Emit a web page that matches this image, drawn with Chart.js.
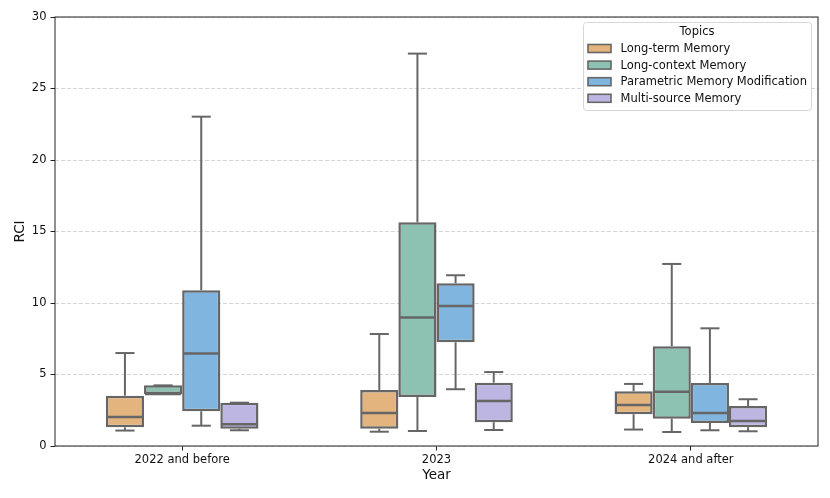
<!DOCTYPE html>
<html>
<head>
<meta charset="utf-8">
<script src="https://cdn.jsdelivr.net/npm/chart.js@4.4.1/dist/chart.umd.min.js"></script>
<style>
  body { margin: 0; background: #fff; }
  #wrap { width: 830px; height: 498px; }
</style>
</head>
<body>
<div id="wrap"><canvas id="chart-area" width="830" height="498"></canvas></div>
<script>
// categories on the x axis
const years = ['2022 and before', '2023', '2024 and after'];
const topics = ['Long-term Memory', 'Long-context Memory', 'Parametric Memory Modification', 'Multi-source Memory'];
const yTicks = [0, 5, 10, 15, 20, 25, 30];

// five number summary per year: [whisker low, q1, median, q3, whisker high]
const longTermStats = [[1.08, 1.31, 2.03, 3.52, 6.5], [1.0, 1.21, 2.31, 3.92, 7.83], [1.15, 2.22, 2.87, 3.83, 4.34]];
const longContextStats = [[3.64, 3.64, 3.64, 4.24, 4.24], [1.05, 3.43, 8.98, 15.64, 27.44], [0.98, 1.91, 3.8, 6.97, 12.73]];
const parametricStats = [[1.42, 2.43, 6.46, 10.89, 23.03], [3.97, 7.25, 9.79, 11.38, 11.94], [1.1, 1.61, 2.31, 4.41, 8.23]];
const multiSourceStats = [[1.1, 1.21, 1.52, 3.03, 3.03], [1.12, 1.66, 3.15, 4.43, 5.17], [1.03, 1.31, 1.75, 2.8, 3.27]];

const allStats = [longTermStats, longContextStats, parametricStats, multiSourceStats];
const fillColors = ['#e3b47e', '#8dc2b2', '#7fb5de', '#bdb6e2'];
const edgeColor = '#666666';
const fontFamily = '"DejaVu Sans", sans-serif';

const datasets = topics.map((t, i) => ({
    label: t,
    data: allStats[i].map(s => [s[1], s[3]]), // box = q1..q3
    stats: allStats[i],
    backgroundColor: fillColors[i],
    borderColor: edgeColor,
    borderWidth: 2.5,
    borderSkipped: false,
    categoryPercentage: 0.6,
    barPercentage: 1.0
}));

// whiskers, caps and median lines
const boxPlugin = {
    id: 'boxWhiskers',
    afterDatasetsDraw(chart) {
        const ctx = chart.ctx;
        const y = chart.scales.y;
        const line = (x1, y1, x2, y2) => {
            ctx.beginPath(); ctx.moveTo(x1, y1); ctx.lineTo(x2, y2); ctx.stroke();
        };
        ctx.save();
        ctx.strokeStyle = edgeColor;
        ctx.lineWidth = 2;
        chart.data.datasets.forEach((ds, di) => {
            chart.getDatasetMeta(di).data.forEach((bar, i) => {
                const s = ds.stats[i];
                const half = bar.width / 2;
                const cap = bar.width / 4;
                const pLow = y.getPixelForValue(s[0]);
                const pQ1 = y.getPixelForValue(s[1]);
                const pMed = y.getPixelForValue(s[2]);
                const pQ3 = y.getPixelForValue(s[3]);
                const pHigh = y.getPixelForValue(s[4]);
                line(bar.x, pQ3, bar.x, pHigh);
                line(bar.x, pQ1, bar.x, pLow);
                line(bar.x - cap, pHigh, bar.x + cap, pHigh);
                line(bar.x - cap, pLow, bar.x + cap, pLow);
                ctx.lineWidth = 2.5;
                line(bar.x - half + 1, pMed, bar.x + half - 1, pMed);
                ctx.lineWidth = 2;
            });
        });
        ctx.restore();
    }
};

// frame around plot + legend box in the upper right
const framePlugin = {
    id: 'frameLegend',
    afterDraw(chart) {
        const ctx = chart.ctx;
        const a = chart.chartArea;
        ctx.save();
        ctx.strokeStyle = '#222';
        ctx.lineWidth = 1;
        ctx.strokeRect(a.left, a.top, a.right - a.left, a.bottom - a.top);

        const lx = 583.5, ly = 22.5, lw = 228, lh = 88;
        ctx.beginPath();
        ctx.roundRect(lx, ly, lw, lh, 3);
        ctx.fillStyle = 'rgba(255,255,255,0.85)';
        ctx.fill();
        ctx.strokeStyle = '#d6d6d6';
        ctx.stroke();

        ctx.fillStyle = '#111';
        ctx.font = '11.5px ' + fontFamily;
        ctx.textBaseline = 'middle';
        ctx.textAlign = 'center';
        ctx.fillText('Topics', 697, 32);
        ctx.textAlign = 'left';
        topics.forEach((t, i) => {
            const cy = 48.5 + i * 16.6;
            ctx.fillStyle = fillColors[i];
            ctx.fillRect(588, cy - 4, 23, 8);
            ctx.strokeStyle = edgeColor;
            ctx.lineWidth = 1.6;
            ctx.strokeRect(588, cy - 4, 23, 8);
            ctx.fillStyle = '#111';
            ctx.fillText(t, 620.5, cy + 0.5);
        });
        ctx.restore();
    }
};

chart = new Chart(document.getElementById('chart-area'), {
    type: 'bar',
    data: { labels: years, datasets: datasets },
    plugins: [boxPlugin, framePlugin],
    options: {
        responsive: false,
        animation: false,
        layout: { padding: { left: 0, right: 12, top: 17, bottom: 0 } },
        plugins: {
            legend: { display: false },
            tooltip: { enabled: false }
        },
        scales: {
            x: {
                afterFit(scale) { scale.height = 52; },
                grid: { drawOnChartArea: false, offset: false, tickLength: 4.5, tickColor: '#222', tickWidth: 1 },
                border: { display: false },
                ticks: { color: '#111', padding: 3, font: { family: fontFamily, size: 11.5 } },
                title: { display: true, text: 'Year', color: '#111', padding: { top: 0, bottom: 14 }, font: { family: fontFamily, size: 13.5 } }
            },
            y: {
                min: 0,
                max: 30,
                afterFit(scale) { scale.width = 55; },
                afterBuildTicks(scale) { scale.ticks = yTicks.map(v => ({ value: v })); },
                grid: { color: 'rgba(180,180,180,0.7)', lineWidth: 0.8, tickLength: 4.5, tickColor: '#222', tickWidth: 1 },
                border: { display: false, dash: [4, 2] },
                ticks: { color: '#111', padding: 4, font: { family: fontFamily, size: 11.5 } },
                title: { display: true, text: 'RCI', color: '#111', padding: { top: 12.5, bottom: 0 }, font: { family: fontFamily, size: 13.5 } }
            }
        }
    }
});
</script>
</body>
</html>
